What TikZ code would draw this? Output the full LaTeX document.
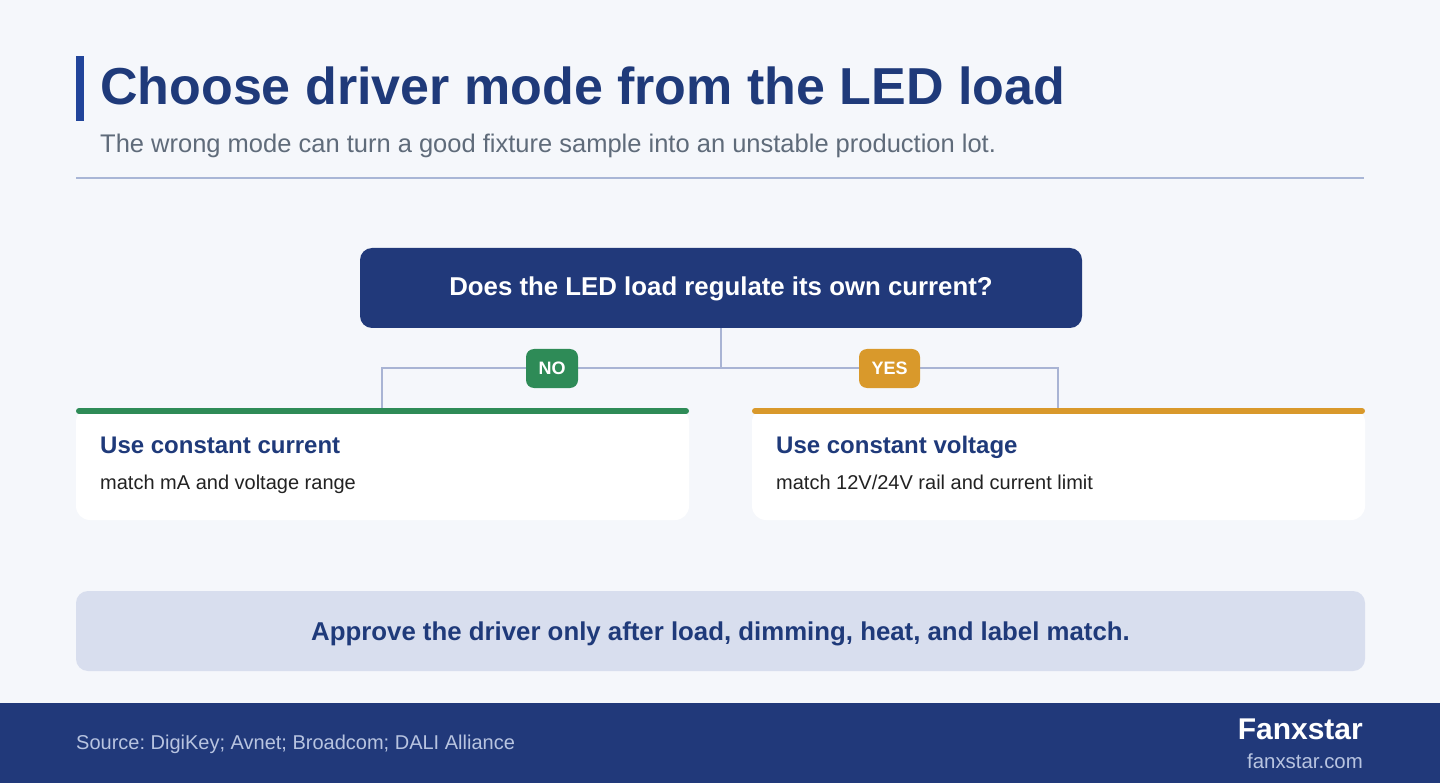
\documentclass[tikz,border=0pt]{standalone}
\usepackage{fontspec}
\setmainfont{Liberation Sans}
\frenchspacing
\definecolor{bg}{HTML}{F5F7FB}
\definecolor{navy}{HTML}{21397A}
\definecolor{titlenavy}{HTML}{1F3A7A}
\definecolor{accent}{HTML}{21449A}
\definecolor{subgray}{HTML}{5F6B7A}
\definecolor{rule}{HTML}{A9B6D6}
\definecolor{conn}{HTML}{A9B4D4}
\definecolor{nogreen}{HTML}{2E8B57}
\definecolor{yesorange}{HTML}{D9992B}
\definecolor{bodytext}{HTML}{222222}
\definecolor{banner}{HTML}{D8DEEE}
\definecolor{footlight}{HTML}{B8C4E0}
\tikzset{
  connector/.style={draw=conn, line width=2.5pt},
  badge/.style={rounded corners=8pt, text=white, font=\bfseries\fontsize{18}{18}\selectfont, inner sep=0pt, anchor=center},
  cardtitle/.style={anchor=base west, text=titlenavy, font=\bfseries\fontsize{24}{24}\selectfont, inner sep=0pt},
  cardbody/.style={anchor=base west, text=bodytext, font=\fontsize{20}{20}\selectfont, inner sep=0pt},
}
\begin{document}
\begin{tikzpicture}[x=1pt,y=-1pt]
\useasboundingbox (0,0) rectangle (1440,783);
\fill[bg] (0,0) rectangle (1440,783);
% header
\fill[accent] (76,56) rectangle (84,121);
\node[anchor=base west, inner sep=0pt, text=titlenavy, font=\bfseries\fontsize{52}{52}\selectfont] (title) at (100,105) {Choose driver mode from the LED load};
\node[anchor=base west, inner sep=0pt, text=subgray, font=\fontsize{25.5}{25.5}\selectfont] (sub) at (100,153) {The wrong mode can turn a good fixture sample into an unstable production lot.};
\draw[rule, line width=2pt] (76,178) -- (1364,178);
% question
\node[fill=navy, rounded corners=12pt, minimum width=722pt, minimum height=80pt, inner sep=0pt] (q) at (721,288) {};
\node[anchor=base, inner sep=0pt, text=white, font=\bfseries\fontsize{25.8}{25.8}\selectfont] (qt) at (721,296) {Does the LED load regulate its own current?};
% cards
\fill[white, rounded corners=14pt] (76,408) rectangle (689,520);
\node[inner sep=0pt, minimum width=613pt, minimum height=112pt] (lcard) at (382.5,464) {};
\draw[nogreen, line width=6pt, line cap=round] (79,411) -- (686,411);
\fill[white, rounded corners=14pt] (752,408) rectangle (1365,520);
\node[inner sep=0pt, minimum width=613pt, minimum height=112pt] (rcard) at (1058.5,464) {};
\draw[yesorange, line width=6pt, line cap=round] (755,411) -- (1362,411);
\node[cardtitle] (lt) at (100,453) {Use constant current};
\node[cardbody] (lb) at (100,489) {match mA and voltage range};
\node[cardtitle] (rt) at (776,453) {Use constant voltage};
\node[cardbody] (rb) at (776,489) {match 12V/24V rail and current limit};
% connectors
\coordinate (j) at (721,368);
\coordinate (lin) at (382,408);
\coordinate (rin) at (1058,408);
\draw[connector] (q.south) -- (j);
\draw[connector] (j) -| (lin);
\draw[connector] (j) -| (rin);
\node[badge, fill=nogreen, minimum width=52pt, minimum height=39pt] (no) at (552,368.5) {NO};
\node[badge, fill=yesorange, minimum width=61pt, minimum height=39pt] (yes) at (889.5,368.5) {YES};
% banner
\node[fill=banner, rounded corners=12pt, minimum width=1289pt, minimum height=80pt, inner sep=0pt] (ban) at (720.5,631) {};
\node[anchor=base, inner sep=0pt, text=titlenavy, font=\bfseries\fontsize{25.8}{25.8}\selectfont] (bant) at (720.5,640) {Approve the driver only after load, dimming, heat, and label match.};
% footer
\fill[navy] (0,703) rectangle (1440,783);
\node[anchor=base west, inner sep=0pt, text=footlight, font=\fontsize{20}{20}\selectfont] (src) at (76,749) {Source: DigiKey; Avnet; Broadcom; DALI Alliance};
\node[anchor=base east, inner sep=0pt, text=white, font=\bfseries\fontsize{30}{30}\selectfont] (brand) at (1363,739) {Fanxstar};
\node[anchor=base east, inner sep=0pt, text=footlight, font=\fontsize{20.4}{20.4}\selectfont] (url) at (1363,768) {fanxstar.com};
\end{tikzpicture}
\end{document}
